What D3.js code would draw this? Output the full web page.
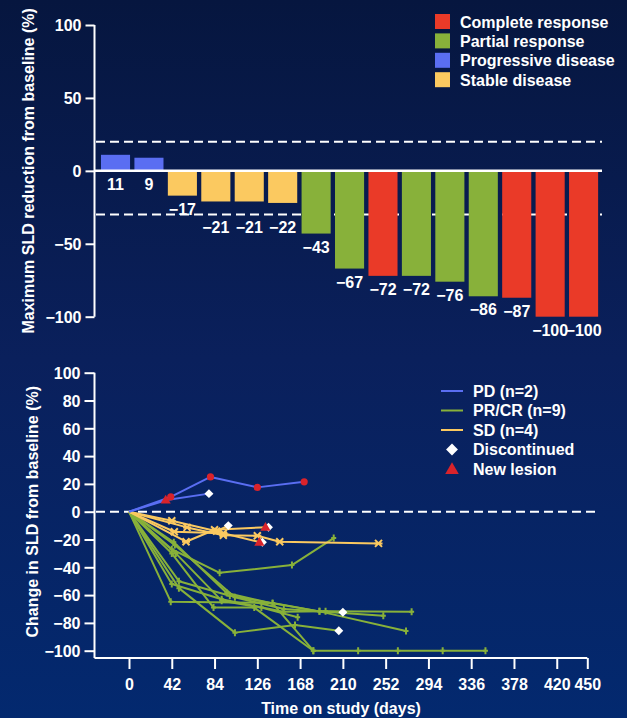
<!DOCTYPE html>
<html>
<head>
<meta charset="utf-8">
<script src="https://cdn.jsdelivr.net/npm/d3@7"></script>
<style>
  html, body { margin: 0; padding: 0; }
  body { width: 627px; height: 718px; overflow: hidden; }
  svg text { font-family: "Liberation Sans", Arial, sans-serif; font-weight: bold; fill: #ffffff; }
</style>
</head>
<body>
<svg id="chart" width="627" height="718"></svg>
<script>
// ---- Waterfall: best change in sum of longest diameters per patient ----
const barValues   = [11, 9, -17, -21, -21, -22, -43, -67, -72, -72, -76, -86, -87, -100, -100];
const barResponse = ["PD","PD","SD","SD","SD","SD","PR","PR","CR","PR","PR","PR","CR","CR","CR"];
const responseKeys   = ["CR", "PR", "PD", "SD"];
const responseLabels = ["Complete response", "Partial response", "Progressive disease", "Stable disease"];
const responseColors = { CR: "#ea3a28", PR: "#88b13a", PD: "#5a6ef2", SD: "#fbc960" };
const topTicks = [100, 50, 0, -50, -100];
const thresholds = [20, -30];

// ---- Spider plot: change over time per patient [day, % change] ----
const pdLines = [
  [[0,0],[41,10.6],[80,25],[126,17.5],[172,21.5]],
  [[0,0],[37,8.4],[78.5,13]]
];
const sdLines = [
  [[0,0],[42,-6.5],[86,-14],[97.5,-10]],
  [[0,0],[57,-11.3],[92.6,-17],[126,-17.3],[148,-21.6],[245,-22.8]],
  [[0,0],[44.5,-14.4],[92.6,-15.5],[129,-22]],
  [[0,0],[56,-21.6],[84,-13],[135,-11.2]]
];
const prcrLines = [
  [[0,0],[42,-27],[89,-44],[160,-38.4],[201,-19]],
  [[0,0],[49,-55],[104,-87],[163,-81.5],[206,-85.6]],
  [[0,0],[44,-22],[96,-58.5],[141,-66],[181,-100],[225,-100],[264,-100],[308,-100],[350,-100]],
  [[0,0],[42,-30],[83,-69],[123,-69],[181,-100]],
  [[0,0],[42,-52],[91,-63],[151.5,-72],[193,-71.7],[277.5,-72]],
  [[0,0],[45,-24],[104,-61.6],[152,-70],[249.7,-74.8]],
  [[0,0],[49,-50],[99,-60.5],[187,-71.7],[272,-85.8]],
  [[0,0],[41,-64.7],[141,-65.7],[187,-71.7],[210,-72.4]],
  [[0,0],[46,-30],[91,-64],[130,-69],[165.6,-75.9]]
];
// Patient end-point flags
const pdRedDots      = [[41,10.6],[80,25],[126,17.5],[172,21.5]];
const newLesions     = [[37,8.4],[129,-22],[135,-11.2]];
const discontinued   = [[78.5,13],[97.5,-10],[129,-22],[135,-11.2],[206,-85.6],[210,-72.4]];
const botYTicks = [100, 80, 60, 40, 20, 0, -20, -40, -60, -80, -100];
const dayTicks  = [0, 42, 84, 126, 168, 210, 252, 294, 336, 378, 420, 450];
const spiderLegend = [
  { label: "PD (n=2)",    type: "line", color: "#5a6ef2" },
  { label: "PR/CR (n=9)", type: "line", color: "#88b13a" },
  { label: "SD (n=4)",    type: "line", color: "#fbc960" },
  { label: "Discontinued", type: "diamond", color: "#ffffff" },
  { label: "New lesion",   type: "triangle", color: "#d9232b" }
];

const FS = 16;
const minus = d => d < 0 ? "\u2212" + Math.abs(d) : String(d);
const svg = d3.select("#chart");

// Background gradient
const defs = svg.append("defs");
const grad = defs.append("linearGradient").attr("id", "bg").attr("x1", 0).attr("y1", 0).attr("x2", 0).attr("y2", 1);
grad.append("stop").attr("offset", "0%").attr("stop-color", "#06163f");
grad.append("stop").attr("offset", "50%").attr("stop-color", "#0a205c");
grad.append("stop").attr("offset", "100%").attr("stop-color", "#03296f");
svg.append("rect").attr("width", 627).attr("height", 718).attr("fill", "url(#bg)");

// ================= Waterfall =================
const yTop = d3.scaleLinear().domain([-100, 100]).range([316.7, 25]);
const xTop = d3.scaleBand().domain(d3.range(barValues.length))
  .range([98.8, 600.3]).paddingInner(0.13).paddingOuter(0.065);

const gTop = svg.append("g");

// lower threshold sits behind the bars
thresholds.forEach(t => {
  gTop.append("line")
    .attr("x1", 96).attr("x2", 602)
    .attr("y1", yTop(t)).attr("y2", yTop(t))
    .attr("stroke", "#fff").attr("stroke-width", 2).attr("stroke-dasharray", "9,5");
});

gTop.selectAll("rect.bar").data(barValues).join("rect")
  .attr("class", "bar")
  .attr("x", (d, i) => xTop(i))
  .attr("width", xTop.bandwidth())
  .attr("y", d => d >= 0 ? yTop(d) : yTop(0))
  .attr("height", d => Math.abs(yTop(d) - yTop(0)))
  .attr("fill", (d, i) => responseColors[barResponse[i]]);

// zero line
gTop.append("line")
  .attr("x1", 94).attr("x2", 602)
  .attr("y1", yTop(0)).attr("y2", yTop(0))
  .attr("stroke", "#fff").attr("stroke-width", 2.5);

// value labels (kept clear of the lower threshold line)
const labelCenter = d => {
  let c = (d >= 0 ? yTop(0) : yTop(d)) + 13.5;
  const yl = yTop(thresholds[1]);
  if (Math.abs(c - yl) < 5) c = yl + 13;
  return c;
};
gTop.selectAll("text.val").data(barValues).join("text")
  .attr("class", "val")
  .attr("x", (d, i) => xTop(i) + xTop.bandwidth() / 2)
  .attr("y", d => labelCenter(d) + 5.7)
  .attr("text-anchor", "middle")
  .attr("font-size", FS)
  .text(minus);

// y axis
const axTop = gTop.append("g").attr("transform", "translate(94.5,0)")
  .call(d3.axisLeft(yTop).tickValues(topTicks).tickSize(9).tickPadding(4).tickFormat(minus));
axTop.select(".domain").attr("stroke", "#fff").attr("stroke-width", 2).attr("d", `M0,${yTop(100)}V${yTop(-100)}`);
axTop.selectAll(".tick line").attr("stroke", "#fff").attr("stroke-width", 2);
axTop.selectAll(".tick text").attr("font-size", FS).attr("fill", "#fff").attr("dy", "0.36em");

gTop.append("text")
  .attr("transform", `translate(34,${(yTop(100) + yTop(-100)) / 2}) rotate(-90)`)
  .attr("text-anchor", "middle").attr("font-size", FS)
  .text("Maximum SLD reduction from baseline (%)");

// legend
const legTop = gTop.append("g").attr("transform", "translate(435,14)");
responseKeys.forEach((k, i) => {
  legTop.append("rect").attr("x", 0).attr("y", i * 19.4).attr("width", 15).attr("height", 15)
    .attr("fill", responseColors[k]);
  legTop.append("text").attr("x", 25).attr("y", i * 19.4 + 13.5).attr("font-size", FS)
    .text(responseLabels[i]);
});

// ================= Spider plot =================
const xBot = d3.scaleLinear().domain([0, 450]).range([129, 587.3]);
const yBot = d3.scaleLinear().domain([-100, 100]).range([650.7, 372.7]);
const gBot = svg.append("g");

gBot.append("line")
  .attr("x1", 96).attr("x2", 598)
  .attr("y1", yBot(0)).attr("y2", yBot(0))
  .attr("stroke", "#fff").attr("stroke-width", 2).attr("stroke-dasharray", "9,5");

const line = d3.line().x(d => xBot(d[0])).y(d => yBot(d[1]));
const isFlagged = p => discontinued.concat(newLesions).some(q => q[0] === p[0] && q[1] === p[1]);

function drawGroup(lines, color, marker) {
  const g = gBot.append("g");
  g.selectAll("path").data(lines).join("path")
    .attr("d", line).attr("fill", "none")
    .attr("stroke", color).attr("stroke-width", 2).attr("stroke-linejoin", "round");
  const pts = lines.flatMap(l => l.slice(1)).filter(p => !isFlagged(p));
  if (marker === "plus") {
    g.selectAll("path.m").data(pts).join("path").attr("class", "m")
      .attr("d", d => `M${xBot(d[0])},${yBot(d[1]) - 3.5}v7M${xBot(d[0]) - 2.5},${yBot(d[1])}h5`)
      .attr("stroke", color).attr("stroke-width", 2);
  } else if (marker === "cross") {
    g.selectAll("path.m").data(pts).join("path").attr("class", "m")
      .attr("d", d => {
        const x = xBot(d[0]), y = yBot(d[1]);
        return `M${x - 3.5},${y - 3.5}l7,7M${x + 3.5},${y - 3.5}l-7,7M${x - 4},${y}h8`;
      })
      .attr("stroke", color).attr("stroke-width", 2);
  }
}

drawGroup(prcrLines, "#88b13a", "plus");
drawGroup(sdLines, "#fbc960", "cross");
drawGroup(pdLines, "#5a6ef2", "none");

gBot.selectAll("circle.pd").data(pdRedDots).join("circle").attr("class", "pd")
  .attr("cx", d => xBot(d[0])).attr("cy", d => yBot(d[1])).attr("r", 3.6)
  .attr("fill", "#d9232b");

const diamond = d3.symbol().type(d3.symbolSquare).size(40);
gBot.selectAll("path.disc").data(discontinued).join("path").attr("class", "disc")
  .attr("transform", d => {
    const both = newLesions.some(q => q[0] === d[0] && q[1] === d[1]);
    return `translate(${xBot(d[0]) + (both ? 2 : 0)},${yBot(d[1])}) rotate(45)`;
  })
  .attr("d", diamond).attr("fill", "#fff");

const tri = d3.symbol().type(d3.symbolTriangle).size(45);
gBot.selectAll("path.nl").data(newLesions).join("path").attr("class", "nl")
  .attr("transform", d => `translate(${xBot(d[0]) - 1},${yBot(d[1]) + 0.5})`)
  .attr("d", tri).attr("fill", "#d9232b");

// axes
const axY = gBot.append("g").attr("transform", "translate(94.5,0)")
  .call(d3.axisLeft(yBot).tickValues(botYTicks).tickSize(10).tickPadding(4).tickFormat(minus));
axY.select(".domain").attr("stroke", "#fff").attr("stroke-width", 2).attr("d", `M0,${yBot(100)}V658`);
axY.selectAll(".tick line").attr("stroke", "#fff").attr("stroke-width", 2);
axY.selectAll(".tick text").attr("font-size", FS).attr("fill", "#fff").attr("dy", "0.36em");

const axX = gBot.append("g").attr("transform", "translate(0,658)")
  .call(d3.axisBottom(xBot).tickValues(dayTicks).tickSize(11).tickPadding(10));
axX.select(".domain").attr("stroke", "#fff").attr("stroke-width", 2).attr("d", `M94.5,0H${xBot(450)}`);
axX.selectAll(".tick line").attr("stroke", "#fff").attr("stroke-width", 2);
axX.selectAll(".tick text").attr("font-size", FS).attr("fill", "#fff");

gBot.append("text")
  .attr("transform", `translate(38,${(yBot(100) + yBot(-100)) / 2}) rotate(-90)`)
  .attr("text-anchor", "middle").attr("font-size", FS)
  .text("Change in SLD from baseline (%)");
gBot.append("text")
  .attr("x", 341).attr("y", 714).attr("text-anchor", "middle").attr("font-size", FS)
  .text("Time on study (days)");

// legend
const legBot = gBot.append("g").attr("transform", "translate(441,391)");
spiderLegend.forEach((e, i) => {
  const y = i * 19.5;
  if (e.type === "line") {
    legBot.append("line").attr("x1", 0).attr("x2", 22).attr("y1", y).attr("y2", y)
      .attr("stroke", e.color).attr("stroke-width", 2);
  } else if (e.type === "diamond") {
    legBot.append("path").attr("transform", `translate(11,${y}) rotate(45)`)
      .attr("d", d3.symbol().type(d3.symbolSquare).size(70)).attr("fill", e.color);
  } else {
    legBot.append("path").attr("transform", `translate(11,${y + 1})`)
      .attr("d", d3.symbol().type(d3.symbolTriangle).size(80)).attr("fill", e.color);
  }
  legBot.append("text").attr("x", 32).attr("y", y + 5.7).attr("font-size", FS).text(e.label);
});
</script>
</body>
</html>
